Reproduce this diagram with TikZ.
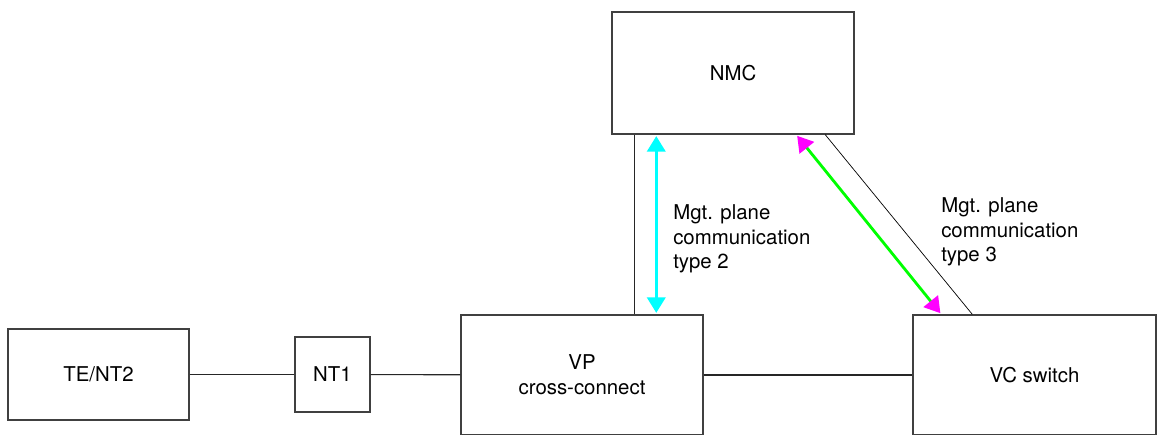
\documentclass[tikz,border=0pt]{standalone}
\usepackage{fontspec}
\setmainfont{TeX Gyre Heros}
\usetikzlibrary{arrows.meta,calc}
\definecolor{mgtcyan}{RGB}{0,255,255}
\definecolor{mgtgreen}{RGB}{0,255,0}
\definecolor{mgthead}{RGB}{255,0,255}
\tikzset{
	box/.style={draw=black!75, line width=1pt, inner sep=0pt, align=center},
	link/.style={draw=black!85, line width=0.8pt},
	lbl/.style={anchor=north west, inner sep=0pt, align=left},
	mgt/.style={line width=2pt, shorten >=1pt, shorten <=1pt}
}
\begin{document}
\begin{tikzpicture}[x=0.025cm, y=-0.025cm, font=\fontsize{14.5}{17.7}\selectfont]
\clip (0,0) rectangle (1163,434);
% network elements
\node [box, minimum width=6.05cm, minimum height=3.05cm] (nmc) at (733,73) {NMC};
\node [box, minimum width=4.525cm, minimum height=2.275cm] (te) at (98.5,374.5) {TE/NT2};
\node [box, minimum width=1.875cm, minimum height=1.875cm] (nt1) at (332.5,374.5) {NT1};
\node [box, minimum width=6.05cm, minimum height=3cm] (vp) at (582,375) {VP\\cross-connect};
\node [box, minimum width=6.075cm, minimum height=3cm] (vc) at (1034.5,375) {VC switch};
% user plane
\draw [link] (te) -- (nt1);
\draw [link] (nt1) -- (vp);
\draw [link] (vp) -- (vc);
% management plane
\draw [link] ($(vp.north west)+(174,0)$) -- ($(nmc.south west)+(23,0)$);
\draw [black, line width=0.5pt] ($(nmc.south west)+(214,0)$) -- ($(vc.north west)+(60,0)$);
\draw [mgt, mgtcyan, {Triangle[width=13pt,length=11pt]}-{Triangle[width=13pt,length=11pt]}] ($(vp.north west)+(196,0)$) -- ($(nmc.south west)+(45,0)$);
\draw [mgt, mgtgreen, {Triangle[width=13pt,length=11pt,color=mgthead]}-{Triangle[width=13pt,length=11pt,color=mgthead]}] ($(nmc.south west)+(185,0)$) -- ($(vc.north west)+(29,0)$);
\node [lbl] (t2) at (673,204) {Mgt. plane\\communication\\type 2};
\node [lbl] (t3) at (941,197) {Mgt. plane\\communication\\type 3};
\end{tikzpicture}
\end{document}
